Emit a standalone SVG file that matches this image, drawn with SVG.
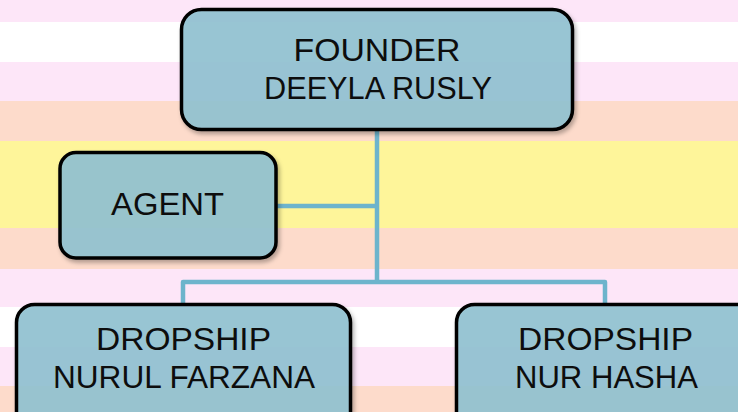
<svg xmlns="http://www.w3.org/2000/svg" width="738" height="412" viewBox="0 0 738 412">
  <defs>
    <filter id="sh" x="-10%" y="-10%" width="125%" height="130%">
      <feDropShadow dx="2" dy="3" stdDeviation="2" flood-color="#000" flood-opacity="0.3"/>
    </filter>
  </defs>
  <style>
    .box { fill: #92C3D3; fill-opacity: 0.9; stroke: #000; stroke-width: 3.5; filter: url(#sh); }
    .lbl { font-family: "Liberation Sans", Arial, sans-serif; font-size: 31px; fill: #0d0d0d; text-anchor: middle; }
    .con { fill: none; stroke: #6DB4CC; stroke-width: 4.5; stroke-linejoin: round; }
  </style>
  <g id="background">
    <rect x="0" y="0" width="738" height="412" fill="#FDE6F8"/>
    <rect x="0" y="22" width="738" height="40" fill="#FFFFFF"/>
    <rect x="0" y="101" width="738" height="40" fill="#FDDBCB"/>
    <rect x="0" y="141" width="738" height="87" fill="#FEF59A"/>
    <rect x="0" y="228" width="738" height="41" fill="#FDDBCB"/>
    <rect x="0" y="307" width="738" height="40" fill="#FFFFFF"/>
    <rect x="0" y="386" width="738" height="26" fill="#FDDBCB"/>
  </g>
  <g id="connectors">
    <path class="con" d="M377 131 V282"/>
    <path class="con" d="M276 206 H377"/>
    <path class="con" d="M183 304 V282 H605 V304"/>
  </g>
  <g id="founder">
    <rect class="box" x="181.5" y="9.5" width="391" height="120" rx="20"/>
    <text class="lbl" x="377" y="61" textLength="167" lengthAdjust="spacingAndGlyphs">FOUNDER</text>
    <text class="lbl" x="378" y="99" textLength="228" lengthAdjust="spacingAndGlyphs">DEEYLA RUSLY</text>
  </g>
  <g id="agent">
    <rect class="box" x="60" y="152.5" width="216" height="105.5" rx="16"/>
    <text class="lbl" x="167.5" y="215" textLength="113" lengthAdjust="spacingAndGlyphs">AGENT</text>
  </g>
  <g id="dropship-nurul-farzana">
    <rect class="box" x="16.5" y="304.5" width="334" height="140" rx="18"/>
    <text class="lbl" x="183.5" y="350" textLength="175" lengthAdjust="spacingAndGlyphs">DROPSHIP</text>
    <text class="lbl" x="184" y="388" textLength="262" lengthAdjust="spacingAndGlyphs">NURUL FARZANA</text>
  </g>
  <g id="dropship-nur-hasha">
    <rect class="box" x="456.5" y="304.5" width="340" height="140" rx="18"/>
    <text class="lbl" x="605.5" y="350" textLength="175" lengthAdjust="spacingAndGlyphs">DROPSHIP</text>
    <text class="lbl" x="606.5" y="388" textLength="183" lengthAdjust="spacingAndGlyphs">NUR HASHA</text>
  </g>
</svg>
